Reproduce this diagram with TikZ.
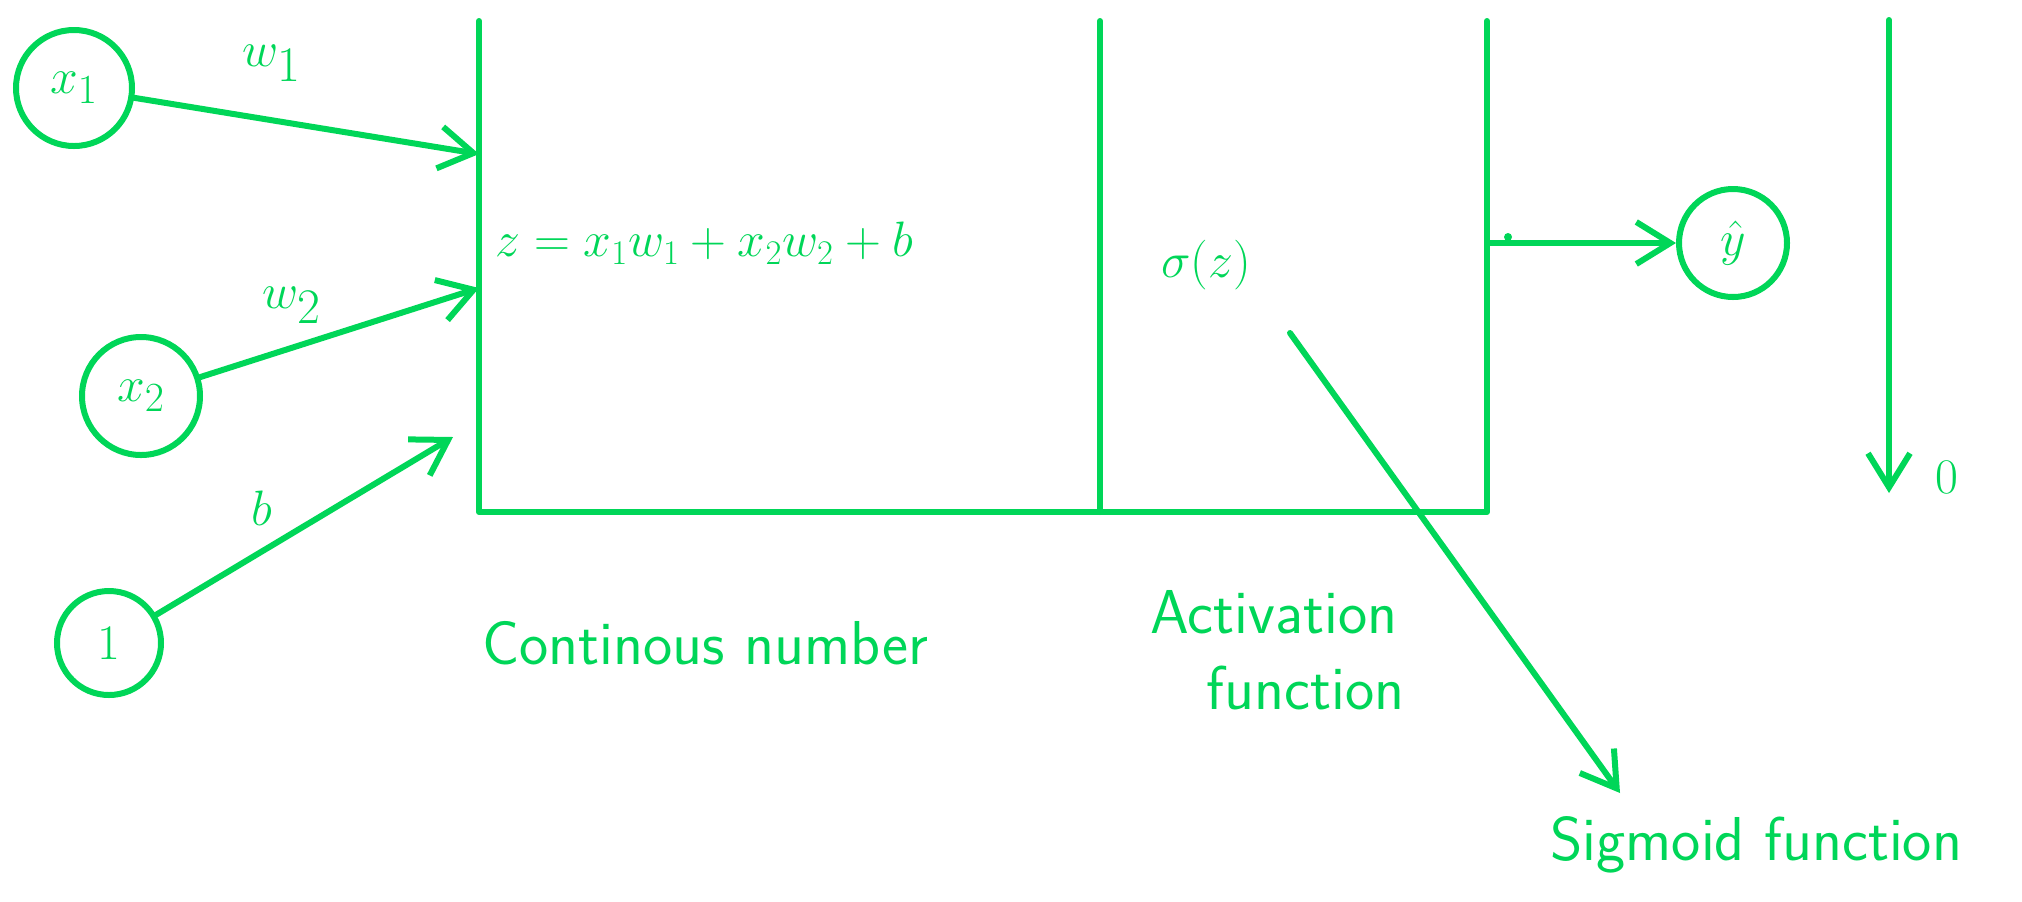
\documentclass[tikz,border=0pt]{standalone}
\usetikzlibrary{arrows.meta}
\definecolor{hand}{RGB}{0,214,88}
\begin{document}
\begin{tikzpicture}[x=0.5pt,y=-0.5pt,
  ink/.style={draw=hand, line width=3pt, line cap=round, line join=round},
  arr/.style={ink, -{Straight Barb[length=17pt,width=21pt]}},
  circ/.style={circle, draw=hand, line width=3pt, text=hand, inner sep=0pt, font=\fontsize{30}{34}\selectfont},
  lbl/.style={text=hand, inner sep=0pt, font=\fontsize{34}{38}\selectfont},
  word/.style={text=hand, inner sep=0pt, font=\fontsize{31}{36}\selectfont\sffamily}]
\useasboundingbox (0,0) rectangle (2022,901);
% input nodes
\node[circ, minimum size=58pt] (x1) at (74,88) {$x_1$};
\node[circ, minimum size=59pt] (x2) at (141,396) {$x_2$};
\node[circ, minimum size=52pt] (one) at (109,643) {$1$};
\node[circ, minimum size=54pt] (yhat) at (1733,243) {$\hat{y}$};
% box
\draw[ink] (479,21) -- (479,512) -- (1487,512) -- (1487,21);
\draw[ink] (1100,21) -- (1100,512);
% coordinates
\coordinate (in1) at (479,154);
\coordinate (in2) at (479,288);
\coordinate (inb) at (453,437);
\coordinate (out) at (1487,243);
\coordinate (dtop) at (1889,20);
\coordinate (dbot) at (1889,493);
\coordinate (sgs) at (1290,333);
\coordinate (sge) at (1620,793);
% arrows
\draw[arr] (x1) -- (in1);
\draw[arr] (x2) -- (in2);
\draw[arr] (one) -- (inb);
\draw[arr] (out) -- (yhat);
\draw[arr] (dtop) -- (dbot);
\draw[arr] (sgs) -- (sge);
\fill[hand] (1508,237) circle (2pt);
% labels
\node[lbl] (lw1) at (272,63) {$w_1$};
\node[lbl] (lw2) at (292,305) {$w_2$};
\node[lbl] (lb) at (262,508) {$b$};
\node[lbl] (lzero) at (1947,477) {$0$};
\node[lbl, anchor=west, font=\fontsize{25}{30}\selectfont] (eqz) at (495,243) {$z = x_1w_1 + x_2w_2 + b$};
\node[lbl, font=\fontsize{38}{42}\selectfont] (sig) at (1206,265) {$\sigma(z)$};
\node[word, anchor=west] (cont) at (482,643) {Continous number};
\node[word, anchor=north west, align=left] (act) at (1150,590) {Activation\\[2pt]\hspace*{28pt}function};
\node[word, anchor=west] (sigf) at (1550,845) {Sigmoid function};
\end{tikzpicture}
\end{document}
